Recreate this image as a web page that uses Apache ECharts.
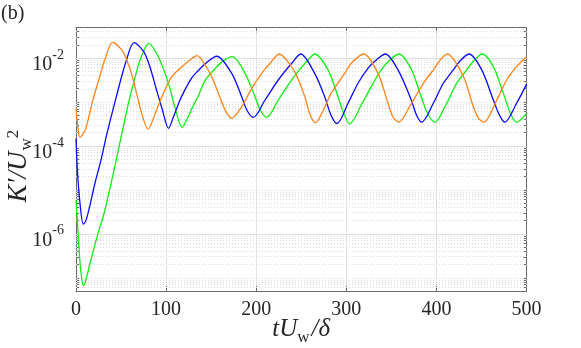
<!DOCTYPE html>
<html>
<head>
<meta charset="utf-8">
<script src="https://cdn.jsdelivr.net/npm/echarts@6/dist/echarts.min.js"></script>
<style>
  html, body { margin: 0; padding: 0; background: #ffffff; }
  #chart { width: 581px; height: 348px; }
</style>
</head>
<body>
<div id="chart"></div>
<script>
// ---- Data (x = tU_w/δ, y = log10(K'/U_w^2)) ----
const orangeX = [0, 2, 4.4, 10.3, 17.8, 25.2, 32.5, 40.7, 51, 56.5, 62.5, 69.6, 75.1, 79.9, 88, 95.4, 106.5, 117.6, 128.7, 134,
  148.7, 158, 165.4, 172.8, 183.9, 195, 206, 215.3, 225.6, 239.4, 247, 254, 260, 266, 273, 283.4, 298.2, 305.6, 319.3,
  335.2, 346.3, 352, 358.5, 370.7, 385.5, 396.6, 404, 412, 430, 441, 447, 452.8, 467, 478, 489, 500];
const orangeY = [-3.14, -3.55, -3.80, -3.64, -3.03, -2.50, -2.01, -1.642, -1.82, -2.05, -2.42, -3.0, -3.41, -3.62, -3.26, -2.88, -2.42, -2.197, -2.01, -1.947,
  -2.35, -2.80, -3.18, -3.37, -3.11, -2.69, -2.35, -2.12, -1.909, -2.20, -2.50, -2.88, -3.30, -3.47, -3.25, -2.80, -2.35, -2.12, -1.909,
  -2.35, -3.03, -3.35, -3.456, -3.09, -2.575, -2.27, -2.05, -1.909, -2.42, -3.11, -3.38, -3.46, -2.955, -2.50, -2.197, -1.97];

const blueX = [0, 1.5, 4.4, 8.1, 11, 15.5, 21, 28, 34, 44.5, 55.5, 64.5, 75, 82, 89, 95.5, 102.7, 108, 114.5, 121, 128.5, 135, 145, 156.2,
  172.8, 183.9, 190, 196.8, 209.8, 224.5, 239.4, 249.4, 264.9, 276, 283, 289.7, 301.9, 313, 324, 333, 343.3,
  357.4, 372.1, 378, 383.7, 396.6, 407.7, 418.8, 427, 436.2, 450.3, 463.2, 470, 476.1, 489, 500];
const blueY = [-3.83, -4.55, -5.30, -5.78, -5.70, -5.35, -4.85, -4.30, -3.75, -2.90, -2.08, -1.651, -1.85, -2.20, -2.70, -3.15, -3.60, -3.35, -3.0, -2.72, -2.45, -2.30, -2.10, -1.96,
  -2.35, -2.88, -3.20, -3.35, -2.955, -2.50, -2.12, -1.909, -2.35, -2.88, -3.30, -3.49, -3.03, -2.575, -2.234, -2.05, -1.909,
  -2.27, -2.955, -3.30, -3.46, -3.03, -2.575, -2.27, -2.05, -1.909, -2.27, -2.955, -3.30, -3.46, -3.03, -2.60];

const greenX = [0, 2.6, 5.2, 8.1, 11, 15.5, 25, 30.3, 39.5, 49, 58, 66, 72, 80.7, 92, 103, 109.5, 117.8, 123, 129, 135, 143, 154, 163, 173.5,
  187.6, 198.7, 205, 211.7, 224.5, 239.4, 246.4, 257.5, 264.9, 279.7, 290.8, 297, 303.8, 316.6, 327.7, 338.8, 348, 358.5,
  372, 381.8, 390, 398.4, 411.4, 422.5, 433.6, 442, 450.9, 463.2, 474.3, 482, 489, 494, 500];
const greenY = [-5.23, -6.07, -6.82, -7.18, -7.05, -6.67, -5.95, -5.60, -4.80, -3.90, -3.05, -2.40, -2.00, -1.665, -2.00, -2.60, -3.10, -3.58, -3.40, -3.13, -2.90, -2.52, -2.25, -2.07, -1.97,
  -2.35, -2.88, -3.20, -3.35, -2.955, -2.50, -2.31, -2.045, -1.909, -2.27, -2.88, -3.25, -3.50, -3.07, -2.65, -2.27, -2.05, -1.909,
  -2.25, -2.80, -3.25, -3.46, -3.03, -2.575, -2.27, -2.05, -1.909, -2.197, -2.80, -3.25, -3.46, -3.40, -3.26];

const xTickValues = [0, 100, 200, 300, 400, 500];
const yTickExponents = [-6, -4, -2];
const yLimits = [5e-8, 5e-2];

// ---- Derived axis helpers ----
const yMin = Math.log10(yLimits[0]);
const yMax = Math.log10(yLimits[1]);
const minorVals = [];
for (let n = -8; n <= -2; n++) {
  for (let k = 1; k <= 9; k++) {
    const v = n + Math.log10(k);
    if (v > yMin + 1e-6 && v < yMax - 1e-6 && !(k === 1 && yTickExponents.includes(n))) minorVals.push(v);
  }
}

const serif = "'Liberation Serif', 'DejaVu Serif', serif";
const textColor = '#262626';
const axisColor = '#6b6b6b';

const chart = echarts.init(document.getElementById('chart'), null, { renderer: 'canvas' });

function yAxisCfg(pos, vals, len, showLine, withLabels) {
  return {
    type: 'value', position: pos, min: yMin, max: yMax,
    axisLine: { show: showLine, lineStyle: { color: axisColor, width: 1 } },
    axisTick: { show: true, inside: true, length: len, customValues: vals, lineStyle: { color: axisColor, width: 1 } },
    axisLabel: withLabels ? {
      show: true, customValues: yTickExponents, margin: 12,
      formatter: v => '{b|10}{s|' + Math.round(v) + '}',
      rich: {
        b: { fontFamily: serif, fontSize: 20, lineHeight: 20, color: textColor, padding: [7, 0, 0, 0], verticalAlign: 'top' },
        s: { fontFamily: serif, fontSize: 14, lineHeight: 14, color: textColor, verticalAlign: 'top' }
      }
    } : { show: false },
    splitLine: { show: false }
  };
}

const gridLines = [];
yTickExponents.forEach(v => gridLines.push({ yAxis: v, lineStyle: { color: '#dedede', type: 'solid', width: 1 } }));
minorVals.forEach(v => gridLines.push({ yAxis: v, lineStyle: { color: '#dadada', type: [1, 2], width: 1 } }));

function curve(xs, ys, color) {
  return {
    type: 'line', xAxisIndex: 0, yAxisIndex: 0,
    data: xs.map((x, i) => [x, ys[i]]),
    showSymbol: false, smooth: 0.3,
    lineStyle: { color: color, width: 1.3 }, itemStyle: { color: color },
    z: 5, silent: true, animation: false
  };
}

const option = {
  animation: false,
  backgroundColor: '#ffffff',
  grid: { left: 76, right: 54.5, top: 27.3, bottom: 57, containLabel: false, outerBoundsMode: 'none' },
  graphic: [{
    type: 'text', left: 1, top: 4,
    style: { text: '(b)', fontFamily: serif, fontSize: 20, fill: textColor }
  }],
  xAxis: [
    {
      type: 'value', position: 'bottom', min: 0, max: 500, interval: 100,
      axisLine: { show: true, onZero: false, lineStyle: { color: axisColor, width: 1 } },
      axisTick: { show: true, inside: true, length: 5, lineStyle: { color: axisColor } },
      axisLabel: { show: true, margin: 9, fontFamily: serif, fontSize: 20, color: textColor, customValues: xTickValues },
      splitLine: { show: true, lineStyle: { color: '#e3e3e3', width: 1 } },
      name: '{i|tU}{sub|w}{i|/δ}', nameLocation: 'middle', nameGap: 26, nameMoveOverlap: false,
      nameTextStyle: {
        rich: {
          i: { fontFamily: serif, fontStyle: 'italic', fontSize: 25, lineHeight: 25, color: textColor, verticalAlign: 'top' },
          sub: { fontFamily: serif, fontSize: 17, lineHeight: 17, color: textColor, padding: [12, 2, 0, 0], verticalAlign: 'top' }
        }
      }
    },
    {
      type: 'value', position: 'top', min: 0, max: 500, interval: 100,
      axisLine: { show: true, onZero: false, lineStyle: { color: axisColor, width: 1 } },
      axisTick: { show: true, inside: true, length: 5, lineStyle: { color: axisColor } },
      axisLabel: { show: false }, splitLine: { show: false }
    }
  ],
  yAxis: [
    Object.assign(yAxisCfg('left', yTickExponents, 5, true, true), {
      name: '{i|K′/U}{sub|w}{sup|2}', nameLocation: 'middle', nameGap: 44, nameMoveOverlap: false,
      nameTextStyle: {
        padding: [0, 14, 0, 0],
        rich: {
          i: { fontFamily: serif, fontStyle: 'italic', fontSize: 27, lineHeight: 27, color: textColor, verticalAlign: 'top' },
          sub: { fontFamily: serif, fontSize: 17, lineHeight: 17, color: textColor, padding: [13, 0, 0, 1], verticalAlign: 'top' },
          sup: { fontFamily: serif, fontSize: 17, lineHeight: 17, color: textColor, padding: [0, 0, 0, 0], verticalAlign: 'top' }
        }
      }
    }),
    yAxisCfg('left', minorVals, 3, false, false),
    yAxisCfg('right', yTickExponents, 5, true, false),
    yAxisCfg('right', minorVals, 3, false, false)
  ],
  series: [
    {
      type: 'line', xAxisIndex: 0, yAxisIndex: 0, data: [], silent: true, z: 1,
      markLine: { silent: true, symbol: ['none', 'none'], label: { show: false }, animation: false, data: gridLines }
    },
    curve(greenX, greenY, '#12ee12'),
    curve(blueX, blueY, '#0a0aff'),
    curve(orangeX, orangeY, '#ff8418')
  ]
};
chart.setOption(option);
</script>
</body>
</html>
